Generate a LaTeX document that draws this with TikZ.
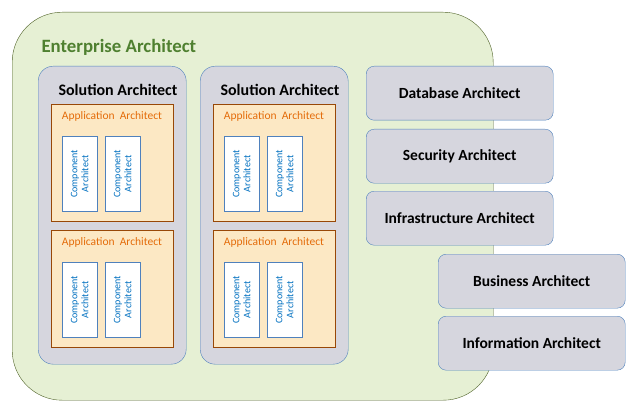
\documentclass[tikz,border=0pt]{standalone}
\usepackage{fontspec}
\setmainfont{Carlito}
\usetikzlibrary{positioning}
\definecolor{entFill}{HTML}{E6F0D4}
\definecolor{entDraw}{HTML}{4F6228}
\definecolor{entText}{HTML}{4F8030}
\definecolor{solFill}{HTML}{D6D6DE}
\definecolor{solDraw}{HTML}{4F81BD}
\definecolor{appFill}{HTML}{FCE8C4}
\definecolor{appDraw}{HTML}{984807}
\definecolor{appText}{HTML}{E46C0A}
\definecolor{compText}{HTML}{0070C0}

\begin{document}
\begin{tikzpicture}
[
	x = 1pt, y = -1pt,
	box/.style	= {draw, rectangle, anchor = north west, inner sep = 0pt, align = center},
	ent/.style	= {box, draw = entDraw, fill = entFill, rounded corners = 50pt},
	sol/.style	= {box, draw = solDraw, fill = solFill, rounded corners = 15pt},
	app/.style	= {box, draw = appDraw, fill = appFill},
	comp/.style	= {box, draw = solDraw, fill = white, minimum width = 35pt, minimum height = 75pt},
	compT/.style	= {rotate = 90, align = center, text = compText, font = \fontsize{10}{11}\selectfont},
	spec/.style	= {box, draw = solDraw, fill = solFill, rounded corners = 8pt, minimum width = 187pt, minimum height = 54pt, font = \bfseries\fontsize{15.5}{17}\selectfont},
]

	\useasboundingbox (0,0) rectangle (639,414);

	\node (ent) [ent, minimum width = 481pt, minimum height = 388pt] at (12,12) {};
	\node (entT) [anchor = west, text = entText, font = \bfseries\fontsize{18.8}{20}\selectfont] at (38,47) {Enterprise Architect};

	\foreach \s/\x in {1/38, 2/200} {
		\node (sol\s) [sol, minimum width = 148pt, minimum height = 298pt] at (\x,66) {};
		\node (sol\s T) [font = \bfseries\fontsize{16}{18}\selectfont] at (\x+80,90) {Solution Architect};
		\foreach \a/\y in {1/104, 2/230} {
			\node (app\s\a) [app, minimum width = 122pt, minimum height = 117pt] at (\x+13,\y) {};
			\node (app\s\a T) [text = appText, font = \fontsize{11.5}{13}\selectfont] at (\x+74,\y+12) {Application~ Architect};
			\node (comp\s\a1) [comp] at (\x+24,\y+32) {};
			\node (comp\s\a2) [comp] at (\x+67,\y+32) {};
			\node [compT] at (comp\s\a1) {Component\\Architect};
			\node [compT] at (comp\s\a2) {Component\\Architect};
		}
	}

	\node (db) [spec] at (366,66) {Database Architect};
	\node (sec) [spec] at (366,129) {Security Architect};
	\node (infra) [spec] at (366,191) {Infrastructure Architect};
	\node (bus) [spec] at (438,254) {Business Architect};
	\node (info) [spec] at (438,316) {Information Architect};

\end{tikzpicture}
\end{document}
